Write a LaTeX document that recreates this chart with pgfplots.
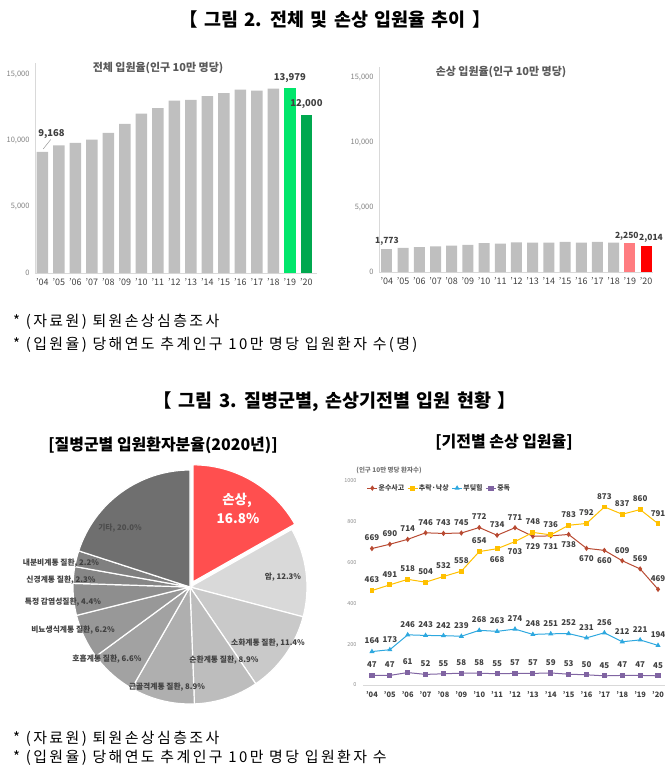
\documentclass[border=0pt]{standalone}
\usepackage{fontspec}
\setmainfont{Noto Sans CJK KR}
\newfontfamily\fnfont[LetterSpace=16]{Noto Sans CJK KR}
\usepackage{pgfplots}
\usepackage{pgfplotstable}
\pgfplotsset{compat=1.18}

\definecolor{barGray}{HTML}{BFBFBF}
\definecolor{greenA}{HTML}{00E66B}
\definecolor{greenB}{HTML}{00A84F}
\definecolor{redA}{HTML}{FF7C80}
\definecolor{redB}{HTML}{FF0000}
\definecolor{cRed}{HTML}{B84A32}
\definecolor{cYel}{HTML}{FFC000}
\definecolor{cBlue}{HTML}{2EA8DF}
\definecolor{cPur}{HTML}{8064A2}
\definecolor{pieRed}{HTML}{FF4F4F}
\definecolor{pA}{HTML}{D9D9D9}
\definecolor{pB}{HTML}{C9C9C9}
\definecolor{pC}{HTML}{BDBDBD}
\definecolor{pD}{HTML}{AFAFAF}
\definecolor{pE}{HTML}{A2A2A2}
\definecolor{pF}{HTML}{989898}
\definecolor{pG}{HTML}{8E8E8E}
\definecolor{pH}{HTML}{868686}
\definecolor{pI}{HTML}{808080}
\definecolor{pJ}{HTML}{6F6F6F}
\definecolor{txt}{HTML}{404040}

\newcommand{\fs}[1]{\fontsize{#1}{#1}\selectfont}

\pgfplotstableread{
x y p
0 669 1
1 690 1
2 714 1
3 746 1
4 743 1
5 745 1
6 772 1
7 734 1
8 771 1
9 729 -1
10 731 -1
11 738 -1
12 670 -1
13 660 -1
14 609 1
15 569 1
16 469 1
}\tblTransport
\pgfplotstableread{
x y p
0 463 1
1 491 1
2 518 1
3 504 1
4 532 1
5 558 1
6 654 1
7 668 -1
8 703 -1
9 748 1
10 736 1
11 783 1
12 792 1
13 873 1
14 837 1
15 860 1
16 791 1
}\tblFall
\pgfplotstableread{
x y p
0 164 1
1 173 1
2 246 1
3 243 1
4 242 1
5 239 1
6 268 1
7 263 1
8 274 1
9 248 1
10 251 1
11 252 1
12 231 1
13 256 1
14 212 1
15 221 1
16 194 1
}\tblHit
\pgfplotstableread{
x y p
0 47 1
1 47 1
2 61 1
3 52 1
4 55 1
5 58 1
6 58 1
7 55 1
8 57 1
9 57 1
10 59 1
11 53 1
12 50 1
13 45 1
14 47 1
15 47 1
16 45 1
}\tblPoison

\begin{document}
\begin{tikzpicture}[x=1bp,y=1bp]
\path[use as bounding box] (0,0) rectangle (671,-767);
\coordinate (A1) at (35,-273);
\coordinate (A2) at (379,-272);
\coordinate (A3) at (190,-587);
\coordinate (A4) at (363,-685);

% ---------- Title 2
\node[font=\bfseries\fs{18.5}] at (335,-20) {\spaceskip=6.5bp【 그림 2. 전체 및 손상 입원율 추이 】};

% ---------- Bar chart: total
\begin{axis}[
  at={(A1)}, anchor=south west, scale only axis,
  width=282bp, height=210bp,
  ymin=0, ymax=15900, xmin=-0.45, xmax=16.64, enlargelimits=false,
  scaled y ticks=false,
  axis x line*=bottom, axis y line*=left,
  axis line style={draw=black!15, line width=0.8bp},
  ytick={0,5000,10000,15000},
  xtick={0,...,16},
  xticklabels={’04,’05,’06,’07,’08,’09,’10,’11,’12,’13,’14,’15,’16,’17,’18,’19,’20},
  major tick length=0pt,
  yticklabel style={font=\fs{7.5}, text=black!50, xshift=-2bp},
  xticklabel style={font=\fs{9}, text=txt, yshift=-2bp},
  /pgf/number format/1000 sep={,},
  /pgf/number format/assume math mode=true,
  clip=false, ybar, bar width=11.5bp,
]
\addplot[fill=barGray, draw=none, bar shift=0pt] coordinates {
(0,9168) (1,9672) (2,9848) (3,10101) (4,10606) (5,11288) (6,12071) (7,12475)
(8,13056) (9,13106) (10,13384) (11,13611) (12,13889) (13,13813) (14,13965)};
\addplot[fill=greenA, draw=none, bar shift=0pt, nodes near coords,
  nodes near coords style={font=\bfseries\fs{9.5}, text=txt, anchor=south, yshift=2bp}]
  coordinates {(15,13979)};
\addplot[fill=greenB, draw=none, bar shift=0pt, nodes near coords,
  nodes near coords style={font=\bfseries\fs{9.5}, text=txt, anchor=south, yshift=2bp}]
  coordinates {(16,12000)};
\draw[black!40, line width=0.5bp] (axis cs:0.05,9400) -- (axis cs:0.5,10100);
\node[font=\bfseries\fs{9.5}, text=txt] at (axis cs:0.55,10550) {9,168};
\end{axis}
\node[font=\bfseries\fs{11}, text=black!65] at (158,-68) {전체 입원율(인구 10만 명당)};

% ---------- Bar chart: injury
\begin{axis}[
  at={(A2)}, anchor=south west, scale only axis,
  width=274bp, height=205bp,
  ymin=0, ymax=15850, xmin=-0.49, xmax=16.43, enlargelimits=false,
  scaled y ticks=false,
  axis x line*=bottom, axis y line*=left,
  axis line style={draw=black!15, line width=0.8bp},
  ytick={0,5000,10000,15000},
  xtick={0,...,16},
  xticklabels={’04,’05,’06,’07,’08,’09,’10,’11,’12,’13,’14,’15,’16,’17,’18,’19,’20},
  major tick length=0pt,
  yticklabel style={font=\fs{7.5}, text=black!50, xshift=-2bp},
  xticklabel style={font=\fs{9}, text=txt, yshift=-2bp},
  /pgf/number format/1000 sep={,},
  /pgf/number format/assume math mode=true,
  clip=false, ybar, bar width=11bp,
]
\addplot[fill=barGray, draw=none, bar shift=0pt, nodes near coords,
  nodes near coords style={font=\bfseries\fs{8.5}, text=txt, anchor=south, yshift=0bp}]
  coordinates {(0,1773)};
\addplot[fill=barGray, draw=none, bar shift=0pt] coordinates {
(1,1856) (2,1933) (3,1985) (4,2036) (5,2088) (6,2242) (7,2191) (8,2294)
(9,2280) (10,2280) (11,2320) (12,2280) (13,2320) (14,2280)};
\addplot[fill=redA, draw=none, bar shift=0pt, nodes near coords,
  nodes near coords style={font=\bfseries\fs{8.5}, text=txt, anchor=south, xshift=-3bp, yshift=-1bp}]
  coordinates {(15,2250)};
\addplot[fill=redB, draw=none, bar shift=0pt, nodes near coords,
  nodes near coords style={font=\bfseries\fs{8.5}, text=txt, anchor=south, xshift=5bp, yshift=0bp}]
  coordinates {(16,2014)};
\end{axis}
\node[font=\bfseries\fs{11}, text=black!65] at (501,-72) {손상 입원율(인구 10만 명당)};

% ---------- Footnotes 1
\node[anchor=west, font=\fnfont\fs{15}, inner sep=0pt] at (13,-322) {* (자료원) 퇴원손상심층조사};
\node[anchor=west, font=\fnfont\fs{15}, inner sep=0pt] at (13,-345) {* (입원율) 당해연도 추계인구 10만 명당 입원환자 수(명)};

% ---------- Title 3
\node[font=\bfseries\fs{18.5}] at (335,-402) {\spaceskip=6.5bp【 그림 3. 질병군별, 손상기전별 입원 현황 】};

% ---------- Pie
\node[font=\bfseries\fs{16}] at (163,-445) {[질병군별 입원환자분율(2020년)]};
\begin{axis}[at={(A3)}, anchor=center, hide axis, x=1bp, y=1bp,
  xmin=-140, xmax=140, ymin=-140, ymax=140, clip=false]
\fill[pieRed, draw=white, line width=1.2bp] (axis cs:3.02,5.19) -- ++(90:117bp) arc[start angle=90, end angle={90-3.6*16.8}, radius=117bp] -- cycle;
\fill[pA, draw=white, line width=1.2bp] (axis cs:0,0) -- ++({90-3.6*16.8}:117bp) arc[start angle={90-3.6*16.8}, end angle={90-3.6*29.1}, radius=117bp] -- cycle;
\fill[pB, draw=white, line width=1.2bp] (axis cs:0,0) -- ++({90-3.6*29.1}:117bp) arc[start angle={90-3.6*29.1}, end angle={90-3.6*40.5}, radius=117bp] -- cycle;
\fill[pC, draw=white, line width=1.2bp] (axis cs:0,0) -- ++({90-3.6*40.5}:117bp) arc[start angle={90-3.6*40.5}, end angle={90-3.6*49.4}, radius=117bp] -- cycle;
\fill[pD, draw=white, line width=1.2bp] (axis cs:0,0) -- ++({90-3.6*49.4}:117bp) arc[start angle={90-3.6*49.4}, end angle={90-3.6*58.3}, radius=117bp] -- cycle;
\fill[pE, draw=white, line width=1.2bp] (axis cs:0,0) -- ++({90-3.6*58.3}:117bp) arc[start angle={90-3.6*58.3}, end angle={90-3.6*64.9}, radius=117bp] -- cycle;
\fill[pF, draw=white, line width=1.2bp] (axis cs:0,0) -- ++({90-3.6*64.9}:117bp) arc[start angle={90-3.6*64.9}, end angle={90-3.6*71.1}, radius=117bp] -- cycle;
\fill[pG, draw=white, line width=1.2bp] (axis cs:0,0) -- ++({90-3.6*71.1}:117bp) arc[start angle={90-3.6*71.1}, end angle={90-3.6*75.5}, radius=117bp] -- cycle;
\fill[pH, draw=white, line width=1.2bp] (axis cs:0,0) -- ++({90-3.6*75.5}:117bp) arc[start angle={90-3.6*75.5}, end angle={90-3.6*77.8}, radius=117bp] -- cycle;
\fill[pI, draw=white, line width=1.2bp] (axis cs:0,0) -- ++({90-3.6*77.8}:117bp) arc[start angle={90-3.6*77.8}, end angle={90-3.6*80.0}, radius=117bp] -- cycle;
\fill[pJ, draw=white, line width=1.2bp] (axis cs:0,0) -- ++({90-3.6*80.0}:117bp) arc[start angle={90-3.6*80.0}, end angle={90-3.6*100}, radius=117bp] -- cycle;
\node[font=\bfseries\fs{13.5}, text=white] at (axis cs:47,87) {손상,};
\node[font=\bfseries\fs{13.5}, text=white] at (axis cs:48,69) {16.8\%};
\begin{scope}[every node/.style={font=\bfseries\fs{7.8}, text=txt}]
\node at (axis cs:93,10) {암, 12.3\%};
\node at (axis cs:78,-56) {소화계통 질환, 11.4\%};
\node at (axis cs:34,-73) {순환계통 질환, 8.9\%};
\node at (axis cs:-23,-100) {근골격계통 질환, 8.9\%};
\node at (axis cs:-83,-72) {호흡계통 질환, 6.6\%};
\node at (axis cs:-117,-43) {비뇨생식계통 질환, 6.2\%};
\node at (axis cs:-127,-15) {특정 감염성질환, 4.4\%};
\node at (axis cs:-129,7) {신경계통 질환, 2.3\%};
\node at (axis cs:-129,24) {내분비계통 질환, 2.2\%};
\node[text=black!70] at (axis cs:-70,59) {기타, 20.0\%};
\end{scope}
\end{axis}

% ---------- Line chart
\node[font=\bfseries\fs{16}] at (504,-442) {[기전별 손상 입원율]};
\node[font=\bfseries\fs{6.5}, text=black!55] at (389,-470) {(인구 10만 명당 환자수)};
\begin{axis}[
  at={(A4)}, anchor=south west, scale only axis,
  width=302bp, height=204bp,
  xmin=-0.5, xmax=16.39, ymin=0, ymax=1000, enlargelimits=false,
  scaled y ticks=false,
  axis x line*=bottom, axis y line*=left,
  x axis line style={draw=black!15, line width=0.8bp},
  y axis line style={draw=none},
  ytick={0,200,400,600,800,1000},
  xtick={0,...,16},
  xticklabels={’04,’05,’06,’07,’08,’09,’10,’11,’12,’13,’14,’15,’16,’17,’18,’19,’20},
  major tick length=0pt,
  yticklabel style={font=\fs{5.5}, text=black!45, xshift=-3bp},
  xticklabel style={font=\bfseries\fs{7.5}, text=txt, yshift=-3bp},
  /pgf/number format/1000 sep={},
  /pgf/number format/assume math mode=true,
  clip=false,
  legend columns=4,
  legend style={at={(0.012,0.965)}, anchor=west, draw=none, fill=none,
    font=\bfseries\fs{7}, text=txt, inner sep=0pt,
    nodes={inner sep=0.3bp},
    /tikz/every odd column/.style={column sep=0.5bp},
    /tikz/every even column/.style={column sep=2.5bp}},
  legend image code/.code={\draw[mark repeat=2, mark phase=2, #1] plot coordinates {(0bp,0bp) (5bp,0bp) (10bp,0bp)};},
  every node near coord/.append style={font=\bfseries\fs{8}, text=txt, anchor=center},
  visualization depends on={\thisrow{p} \as \pp},
  every node near coord/.append style={yshift=\pp*10.5bp},
]
\addplot[color=cRed, line width=1bp, mark=diamond*, mark size=1.9bp, mark options={solid},
  nodes near coords, point meta=y] table[x=x, y=y] {\tblTransport};
\addlegendentry{운수사고}
\addplot[color=cYel, line width=1bp, mark=square*, mark size=1.9bp, mark options={solid},
  nodes near coords, point meta=y] table[x=x, y=y] {\tblFall};
\addlegendentry{추락·낙상}
\addplot[color=cBlue, line width=1bp, mark=triangle*, mark size=2bp, mark options={solid},
  nodes near coords, point meta=y] table[x=x, y=y] {\tblHit};
\addlegendentry{부딪힘}
\addplot[color=cPur, line width=1bp, mark=square*, mark size=2.1bp, mark options={solid},
  nodes near coords, point meta=y] table[x=x, y=y] {\tblPoison};
\addlegendentry{중독}
\end{axis}

% ---------- Footnotes 2
\node[anchor=west, font=\fnfont\fs{15}, inner sep=0pt] at (13,-739) {* (자료원) 퇴원손상심층조사};
\node[anchor=west, font=\fnfont\fs{15}, inner sep=0pt] at (13,-758) {* (입원율) 당해연도 추계인구 10만 명당 입원환자 수};
\end{tikzpicture}
\end{document}
